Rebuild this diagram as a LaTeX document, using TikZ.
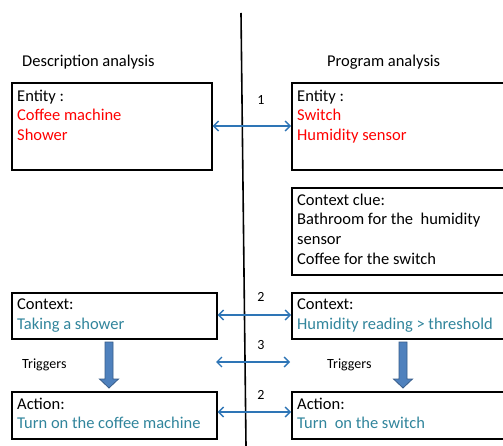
\documentclass[tikz,border=0pt]{standalone}
\usepackage{fontspec}
\setmainfont{Carlito}
\usetikzlibrary{arrows.meta}
\definecolor{ared}{HTML}{FF0000}
\definecolor{ateal}{HTML}{31859C}
\definecolor{ablue}{HTML}{2E75B6}
\definecolor{bfill}{HTML}{4F81BD}
\definecolor{bline}{HTML}{385D8A}
\tikzset{
  box/.style={draw=black, line width=1.6pt, minimum width=#1, inner sep=0pt, anchor=north west},
  txt/.style={align=left, inner sep=0pt, anchor=north west, font=\fontsize{16.5}{19.8}\selectfont},
  head/.style={inner sep=0pt, anchor=base west, font=\fontsize{16.5}{19.8}\selectfont},
  small/.style={inner sep=0pt, font=\fontsize{14}{17}\selectfont},
  link/.style={draw=ablue, line width=1.4pt, {Straight Barb[length=5pt,width=10pt]}-{Straight Barb[length=5pt,width=10pt]}},
  blockarrow/.style={fill=bfill, draw=bline, line width=0.8pt},
}
\begin{document}
\begin{tikzpicture}[x=1pt,y=-1pt]
\useasboundingbox (0,0) rectangle (503,446);
\clip (0,0) rectangle (503,446);
\fill[white] (0,0) rectangle (503,446);
% divider
\coordinate (dtop) at (241,13);
\coordinate (dbot) at (246,446);
\draw[line width=1.6pt] (dtop) -- (dbot);
% headings
\node[head] (hl) at (22,67) {Description analysis};
\node[head] (hr) at (327,67) {Program analysis};
% boxes
\node[box=200pt, minimum height=87pt] (le) at (11,82) {};
\node[box=225pt, minimum height=87pt] (re) at (291,82) {};
\node[box=225pt, minimum height=87pt] (rc) at (291,187) {};
\node[box=205pt, minimum height=46pt] (lc) at (11,292) {};
\node[box=225pt, minimum height=46pt] (rx) at (291,292) {};
\node[box=205pt, minimum height=47pt] (la) at (11,391) {};
\node[box=225pt, minimum height=47pt] (ra) at (291,391) {};
% texts
\node[txt] (tle) at (17,89.5) {Entity :\\\textcolor{ared}{Coffee machine}\\\textcolor{ared}{Shower}};
\node[txt] (tre) at (297,89.5) {Entity :\\\textcolor{ared}{Switch}\\\textcolor{ared}{Humidity sensor}};
\node[txt] (trc) at (297,193.5) {Context clue:\\Bathroom for the\ \ humidity\\sensor\\Coffee for the switch};
\node[txt] (tlc) at (17,298.5) {Context:\\\textcolor{ateal}{Taking a shower}};
\node[txt] (trx) at (297,298.5) {Context:\\\textcolor{ateal}{Humidity reading > threshold}};
\node[txt] (tla) at (17,397.5) {Action:\\\textcolor{ateal}{Turn on the coffee machine}};
\node[txt] (tra) at (297,397.5) {Action:\\\textcolor{ateal}{Turn\ \ on the switch}};
% triggers
\node[small, anchor=west] (trl) at (22,365) {Triggers};
\node[small, anchor=west] (trr) at (327,365) {Triggers};
\coordinate (tl) at (216,362);
\coordinate (tr) at (290,362);
% links
\draw[link] (le.east |- 0,126) -- (re.west |- 0,126);
\draw[link] (lc.east |- 0,315) -- (rx.west |- 0,315);
\draw[link] (tl) -- (tr);
\draw[link] (la.east |- 0,412) -- (ra.west |- 0,412);
% numbers
\node[small] (n1) at (261,100) {1};
\node[small] (n2) at (261,297) {2};
\node[small] (n3) at (261,345) {3};
\node[small] (n4) at (261,395) {2};
% block arrows
\draw[blockarrow] (105,342) -- (113,342) -- (113,379) -- (118.5,379) -- (109,388) -- (99.5,379) -- (105,379) -- cycle;
\draw[blockarrow] (399,342) -- (407,342) -- (407,379) -- (412.5,379) -- (403,388) -- (393.5,379) -- (399,379) -- cycle;
\end{tikzpicture}
\end{document}
